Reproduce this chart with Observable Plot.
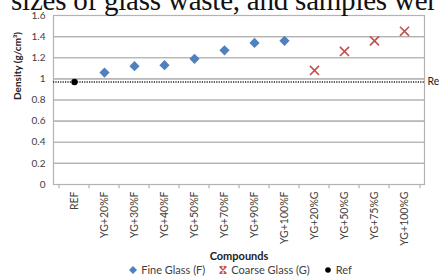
<!DOCTYPE html>
<html>
<head>
<meta charset="utf-8">
<script src="https://cdn.jsdelivr.net/npm/d3@7"></script>
<script src="https://cdn.jsdelivr.net/npm/@observablehq/plot@0.6"></script>
<style>
  html, body { margin: 0; padding: 0; background: #fff; }
  #wrap { position: relative; width: 439px; height: 278px; overflow: hidden; font-family: Lato, "Open Sans", sans-serif; }
  #top { position: absolute; left: 0; top: 0; }
  #legend { height: 16px; line-height: 16px; font-size: 11px; color: #404040; display: flex; justify-content: center; align-items: center; padding-left: 42px; }
  #legend span.item { display: inline-flex; align-items: center; margin: 0 7px; }
  #legend svg { margin-right: 4px; }
</style>
</head>
<body>
<div id="wrap">
  <div id="chart"></div>
  <div id="legend"></div>
  <svg id="top" width="439" height="20"><text x="11" y="9.5" font-family="'Liberation Serif', 'DejaVu Serif', serif" font-size="29" fill="#111" textLength="426" lengthAdjust="spacing">sizes of glass waste, and samples wer</text></svg>
</div>
<script>
const categories = ["REF","YG+20%F","YG+30%F","YG+40%F","YG+50%F","YG+70%F","YG+90%F","YG+100%F","YG+20%G","YG+50%G","YG+75%G","YG+100%G"];
const refCategories = ["REF"];
const refValues = [0.97];
const fineCategories = ["YG+20%F","YG+30%F","YG+40%F","YG+50%F","YG+70%F","YG+90%F","YG+100%F"];
const fineValues = [1.06, 1.12, 1.13, 1.19, 1.27, 1.34, 1.36];
const coarseCategories = ["YG+20%G","YG+50%G","YG+75%G","YG+100%G"];
const coarseValues = [1.08, 1.26, 1.36, 1.45];
const yTicks = [0, 0.2, 0.4, 0.6, 0.8, 1, 1.2, 1.4, 1.6];
const refLine = 0.97;

const fine = fineCategories.map((c, i) => ({c, v: fineValues[i]}));
const coarse = coarseCategories.map((c, i) => ({c, v: coarseValues[i]}));
const ref = refCategories.map((c, i) => ({c, v: refValues[i]}));

const W = 439, H = 262;
const mL = 53, mR = 15, mT = 15, mB = 78;
const bw = (W - mL - mR) / categories.length;
const grid = "#b3b3b3";
const txt = "#404040";

const chart = Plot.plot({
  width: W, height: H,
  marginLeft: mL, marginRight: mR, marginTop: mT, marginBottom: mB,
  style: {fontFamily: "Lato, 'Open Sans', sans-serif", fontSize: "10.5px", color: txt, background: "#fff", overflow: "hidden"},
  x: {type: "band", domain: categories, padding: 0, axis: null},
  y: {domain: [0, 1.6], axis: null},
  marks: [
    Plot.ruleY(yTicks.filter(d => d > 0), {stroke: grid, strokeWidth: 1.2}),
    Plot.frame({stroke: grid, strokeWidth: 1.2}),
    // y ticks
    Plot.tickY(yTicks, {y: d => d, frameAnchor: "left", stroke: grid, strokeWidth: 1.2}),
    // x boundary ticks
    Plot.ruleX(categories, {x: d => d, dx: -bw / 2, y1: 0, y2: -0.04, stroke: grid, strokeWidth: 1.2}),
    Plot.ruleX([categories[categories.length - 1]], {x: d => d, dx: bw / 2, y1: 0, y2: -0.04, stroke: grid, strokeWidth: 1.2}),
    // y tick labels
    Plot.text(yTicks, {y: d => d, text: d => String(d), frameAnchor: "left", dx: -8, textAnchor: "end", fill: txt, fontSize: 10}),
    // x tick labels
    Plot.text(categories, {x: d => d, y: 0, dy: 7, text: d => d, rotate: -90, textAnchor: "end", fill: txt, fontSize: 10.5}),
    // ref dotted line
    Plot.ruleY([refLine], {stroke: "#222", strokeWidth: 1.6, strokeDasharray: "1.2,1.2"}),
    Plot.text(["Ref"], {y: refLine, frameAnchor: "right", dx: 3, textAnchor: "start", fill: "#222", fontSize: 10.5}),
    // series
    Plot.dot(ref, {x: "c", y: "v", fill: "#000", r: 3.2, symbol: "circle"}),
    Plot.dot(fine, {x: "c", y: "v", fill: "#4f81bd", r: 4.6, symbol: "diamond2"}),
    Plot.dot(coarse, {x: "c", y: "v", stroke: "#c0504d", strokeWidth: 1.6, r: 4.2, symbol: "times"}),
    // axis titles
    Plot.text(["Compounds"], {frameAnchor: "bottom", dy: 75, text: d => d, fontWeight: "bold", fill: "#222", fontSize: 11}),
    Plot.text(["Density (g/cm³)"], {frameAnchor: "left", dx: -36, rotate: -90, text: d => d, fontWeight: "bold", fill: "#222", fontSize: 10})
  ]
});
document.getElementById("chart").appendChild(chart);

const legendItems = [
  {label: "Fine Glass (F)", sym: '<path d="M4,0L8,4L4,8L0,4Z" fill="#4f81bd"/>'},
  {label: "Coarse Glass (G)", sym: '<path d="M1,1L7,7M7,1L1,7M0.5,0.8H3.5M4.5,0.8H7.5M0.5,7.2H3.5M4.5,7.2H7.5" stroke="#c0504d" stroke-width="1.4" fill="none"/>'},
  {label: "Ref", sym: '<circle cx="4" cy="4" r="2.8" fill="#000"/>'}
];
document.getElementById("legend").innerHTML = legendItems.map(d =>
  `<span class="item"><svg width="8" height="8" viewBox="0 0 8 8">${d.sym}</svg>${d.label}</span>`).join("");
</script>
</body>
</html>
